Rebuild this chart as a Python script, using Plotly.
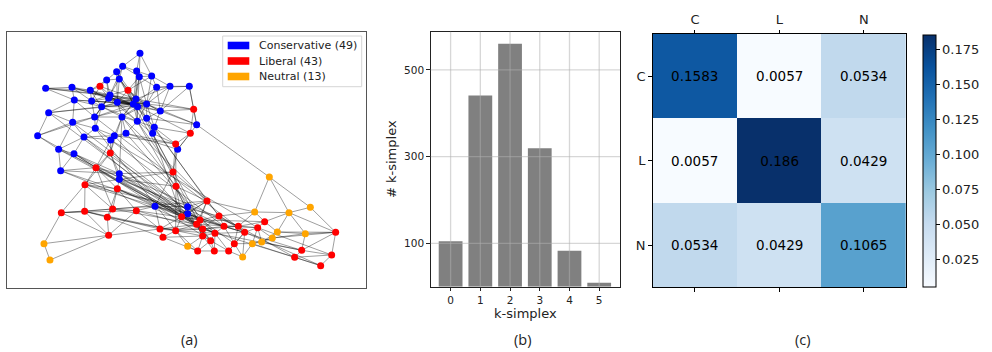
import plotly.graph_objects as go

W, H = 992, 352
FONT = 'DejaVu Sans'

# ---------------- (a) network: node layout positions (drawing units) ----------------
node_x = [
    # conservative
    420, 368, 350, 410, 418, 455, 320, 358, 137, 216, 271, 470, 510, 568, 223, 275, 330,
    326, 352, 408, 400, 413, 440, 305, 481, 146, 284, 366, 412, 440, 218, 286, 463, 458,
    113, 252, 343, 378, 332, 590, 176, 222, 533, 182, 358, 358, 465, 563, 563,
    # liberal
    300, 384, 581, 571, 527, 331, 288, 519, 528, 255, 352, 184, 254, 338, 322, 409, 326,
    621, 545, 657, 480, 489, 527, 600, 590, 608, 608, 672, 715, 645, 632, 734, 703, 773,
    794, 593, 643, 686, 1007, 905, 884, 995, 962,
    # neutral
    132, 150, 563, 728, 757, 785, 817, 832, 764, 867, 931, 916, 808,
]
node_y = [
    85, 124, 140, 138, 155, 153, 165, 162, 190, 187, 196, 187, 184, 184, 225, 228, 210,
    220, 232, 222, 237, 245, 237, 245, 258, 263, 276, 276, 289, 280, 292, 310, 307, 325,
    332, 336, 332, 325, 345, 299, 373, 386, 373, 437, 446, 463, 544, 545, 566,
    184, 196, 253, 325, 357, 384, 428, 441, 484, 479, 491, 563, 559, 552, 577, 557, 631,
    528, 575, 573, 612, 637, 617, 585, 598, 612, 633, 604, 604, 625, 647, 622, 656, 608,
    590, 678, 678, 678, 622, 676, 697, 690, 722,
    656, 705, 664, 696, 656, 651, 639, 621, 561, 563, 547, 626, 456,
]
node_group = ['C'] * 49 + ['L'] * 43 + ['N'] * 13

edges = [
    (0, 1), (0, 3), (0, 4), (0, 5), (1, 2), (1, 3), (1, 7), (1, 16), (1, 4),
    (2, 6), (2, 7), (2, 18), (2, 20), (2, 19), (3, 4), (3, 5), (3, 19), (3, 20),
    (4, 5), (4, 19), (4, 20), (4, 21), (4, 11), (4, 22), (5, 11), (5, 12), (5, 22),
    (6, 7), (6, 10), (6, 16), (6, 17), (6, 49), (7, 16), (7, 18), (7, 19), (7, 50), (7, 20),
    (8, 9), (8, 14), (8, 16), (8, 10), (8, 19), (9, 10), (9, 14), (9, 15), (9, 17), (9, 20),
    (10, 15), (10, 16), (10, 17), (10, 49), (10, 23), (10, 18), (10, 21),
    (11, 12), (11, 22), (11, 24), (11, 13), (11, 20), (12, 13), (12, 24), (12, 22), (12, 19),
    (13, 51), (13, 39), (13, 24), (14, 15), (14, 25), (14, 26), (14, 23), (14, 30), (14, 20),
    (15, 16), (15, 23), (15, 26), (15, 17), (15, 20), (15, 22),
    (16, 17), (16, 18), (16, 19), (16, 20), (16, 23), (16, 21), (16, 22), (16, 26),
    (17, 18), (17, 20), (17, 21), (17, 23), (17, 26), (17, 19), (17, 22), (17, 28),
    (18, 19), (18, 20), (18, 21), (18, 22), (18, 27), (18, 50), (18, 23), (18, 28),
    (19, 20), (19, 21), (19, 22), (19, 24), (19, 28), (19, 23), (19, 29), (19, 27),
    (20, 21), (20, 22), (20, 27), (20, 28), (20, 29), (20, 23), (20, 24), (20, 26),
    (21, 22), (21, 28), (21, 29), (21, 24), (21, 27), (21, 23),
    (22, 24), (22, 29), (22, 32), (22, 51), (22, 27), (22, 28),
    (23, 26), (23, 27), (23, 31), (23, 25), (23, 28), (24, 51), (24, 29), (24, 32), (24, 39),
    (25, 30), (25, 34), (25, 20), (26, 30), (26, 31), (26, 27), (26, 34), (26, 22),
    (27, 28), (27, 36), (27, 37), (27, 44), (28, 29), (28, 32), (28, 33), (28, 37),
    (29, 32), (29, 33), (29, 39), (30, 34), (30, 35), (30, 40), (30, 31),
    (31, 35), (31, 36), (31, 38), (32, 33), (32, 53), (32, 52), (33, 53), (33, 56),
    (34, 40), (35, 36), (35, 40), (35, 41), (35, 38), (36, 37), (36, 38), (36, 54),
    (37, 38), (37, 42), (37, 53), (38, 54), (38, 55), (40, 41), (40, 43), (41, 43), (41, 55),
    (42, 53), (42, 56), (42, 52), (43, 44), (44, 45), (44, 54), (44, 55),
    (45, 57), (45, 58), (45, 59), (49, 16), (49, 17), (49, 15), (49, 19),
    (50, 19), (50, 20), (50, 21), (50, 22), (50, 5), (50, 4), (50, 16),
    # long conservative -> liberal cluster links
    (40, 73), (41, 72), (43, 76), (44, 74), (45, 77), (27, 66), (28, 75), (37, 78),
    (36, 79), (26, 80), (35, 67), (31, 71), (38, 82), (30, 72), (34, 74), (25, 73),
    (41, 77), (43, 78), (40, 76), (29, 68), (32, 66), (33, 67), (21, 72), (20, 74),
    (19, 51), (20, 52), (22, 39), (36, 53), (41, 79), (35, 81), (38, 76), (44, 72),
    (45, 73), (27, 57), (28, 56),
    # left liberal group
    (54, 55), (54, 58), (55, 58), (55, 59), (55, 62), (58, 59), (58, 60), (58, 61), (58, 62),
    (59, 62), (59, 63), (59, 64), (60, 61), (60, 92), (60, 65), (60, 62), (60, 64),
    (61, 62), (61, 63), (61, 65), (62, 63), (62, 64), (63, 65), (64, 65),
    (92, 93), (92, 65), (93, 65), (65, 69), (54, 45), (55, 43), (54, 27),
    (58, 72), (59, 76), (62, 73), (64, 74), (61, 69), (64, 69), (63, 70), (62, 66),
    (59, 67), (55, 74), (55, 78), (54, 73), (64, 46), (59, 46), (62, 46), (61, 71),
    (58, 68), (64, 72), (63, 71),
    # middle
    (51, 52), (51, 39), (52, 39), (52, 53), (52, 42), (53, 56), (53, 42), (56, 57),
    (56, 66), (56, 46), (57, 66), (57, 47), (57, 48), (57, 67), (57, 71), (45, 56),
    (44, 56), (53, 57), (39, 104),
    # lower right cluster
    (66, 67), (66, 72), (66, 73), (66, 68), (66, 100), (66, 48),
    (67, 72), (67, 73), (67, 69), (67, 71), (67, 48), (67, 47),
    (68, 72), (68, 76), (68, 77), (68, 100), (68, 74), (69, 70), (69, 71), (69, 73),
    (70, 71), (70, 84), (71, 73), (71, 74), (71, 84), (71, 75),
    (72, 73), (72, 74), (72, 76), (72, 78), (73, 74), (73, 75), (73, 79),
    (74, 75), (74, 78), (74, 79), (74, 76), (75, 79), (75, 84), (75, 85),
    (76, 77), (76, 78), (76, 80), (76, 81), (77, 80), (77, 82), (77, 83), (77, 81),
    (78, 79), (78, 80), (78, 85), (78, 86), (79, 85), (79, 84),
    (80, 81), (80, 82), (80, 86), (80, 95), (81, 86), (81, 95), (81, 96),
    (82, 83), (82, 96), (82, 97), (82, 98), (83, 99), (83, 100), (83, 101),
    (84, 85), (84, 94), (85, 86), (86, 95), (94, 71), (94, 75), (95, 96),
    (96, 97), (96, 98), (96, 91), (97, 98), (97, 99), (97, 88),
    (98, 99), (98, 103), (98, 87), (99, 101), (99, 103), (99, 87),
    (100, 101), (100, 104), (100, 77), (101, 102), (101, 103), (101, 104), (101, 87),
    (102, 104), (102, 87), (103, 87), (103, 88), (87, 90), (87, 88),
    (88, 89), (88, 90), (89, 91), (89, 90), (90, 91),
    (46, 47), (46, 48), (46, 67), (46, 69), (47, 48), (47, 66), (47, 67), (47, 72),
    (48, 72), (48, 73), (76, 88), (77, 89), (80, 91), (82, 90), (74, 89), (78, 88),
    (72, 80), (73, 78), (74, 77), (75, 78), (79, 86), (73, 82), (72, 83), (71, 78),
    (69, 74), (70, 75), (68, 80),
]

group_names = {'C': 'Conservative', 'L': 'Liberal', 'N': 'Neutral'}
group_colors = {'C': '#0000ff', 'L': '#ff0000', 'N': '#ffa500'}

# ---------------- (b) simplex counts ----------------
simplex_k = [0, 1, 2, 3, 4, 5]
simplex_count = [105, 441, 560, 319, 83, 9]
count_ticks = [100, 300, 500]

# ---------------- (c) group mixing matrix ----------------
groups = ['C', 'L', 'N']
mixing = [
    [0.1583, 0.0057, 0.0534],
    [0.0057, 0.186, 0.0429],
    [0.0534, 0.0429, 0.1065],
]
cbar_ticks = [0.025, 0.05, 0.075, 0.1, 0.125, 0.15, 0.175]

BLUES = [
    [0.0, '#f7fbff'], [0.125, '#deebf7'], [0.25, '#c6dbef'], [0.375, '#9ecae1'],
    [0.5, '#6baed6'], [0.625, '#4292c6'], [0.75, '#2171b5'], [0.875, '#08519c'],
    [1.0, '#08306b'],
]


def px(x0, x1):
    return [x0 / W, x1 / W]


def py(top, bottom):
    return [1 - bottom / H, 1 - top / H]


fig = go.Figure()

# edges
ex, ey = [], []
for a, b in edges:
    ex += [node_x[a], node_x[b], None]
    ey += [node_y[a], node_y[b], None]
fig.add_trace(go.Scatter(
    x=ex, y=ey, mode='lines', xaxis='x', yaxis='y',
    line=dict(color='rgba(0,0,0,0.55)', width=0.7),
    hoverinfo='skip', showlegend=False,
))

for g in ['C', 'L', 'N']:
    idx = [i for i, gg in enumerate(node_group) if gg == g]
    fig.add_trace(go.Scatter(
        x=[node_x[i] for i in idx], y=[node_y[i] for i in idx],
        mode='markers', xaxis='x', yaxis='y',
        marker=dict(color=group_colors[g], size=7, line=dict(width=0)),
        name=group_names[g], showlegend=False,
    ))

# bars
fig.add_trace(go.Bar(
    x=simplex_k, y=simplex_count, xaxis='x2', yaxis='y2', width=0.8,
    marker=dict(color='#808080', line=dict(width=0)),
    showlegend=False,
))

# heatmap
fig.add_trace(go.Heatmap(
    z=mixing, x=groups, y=groups, xaxis='x3', yaxis='y3',
    colorscale=BLUES,
    text=[[str(v) for v in row] for row in mixing],
    texttemplate='%{text}',
    textfont=dict(family=FONT, size=13.5, color='black'),
    colorbar=dict(
        x=922.7 / W, xanchor='left', y=1 - 160.5 / H, yanchor='middle',
        len=252.4 / H, lenmode='fraction', thickness=13.3, thicknessmode='pixels',
        outlinewidth=1, outlinecolor='black', xpad=0, ypad=0,
        tickvals=cbar_ticks, tickformat='.3f', ticks='outside', ticklen=3.5,
        tickcolor='black', tickfont=dict(family=FONT, size=13, color='#222'),
    ),
))

shapes = []
# grid of bar chart drawn over the bars (matplotlib style)
for k in simplex_k:
    shapes.append(dict(type='line', xref='x2', yref='y2 domain', x0=k, x1=k, y0=0, y1=1,
                       line=dict(color='rgba(176,176,176,0.5)', width=1.3), layer='above'))
for v in count_ticks:
    shapes.append(dict(type='line', xref='x2 domain', yref='y2', x0=0, x1=1, y0=v, y1=v,
                       line=dict(color='rgba(176,176,176,0.5)', width=1.3), layer='above'))

# network legend (patch style)
shapes.append(dict(type='rect', xref='paper', yref='paper',
                   x0=222.7 / W, x1=361.7 / W, y0=1 - 86.7 / H, y1=1 - 36 / H,
                   line=dict(color='#d6d6d6', width=1), fillcolor='rgba(255,255,255,0.9)',
                   layer='above'))
annotations = []
for i, g in enumerate(['C', 'L', 'N']):
    yc = 45.5 + i * 15.5
    shapes.append(dict(type='rect', xref='paper', yref='paper',
                       x0=227.7 / W, x1=249.3 / W, y0=1 - (yc + 3.8) / H, y1=1 - (yc - 3.8) / H,
                       line=dict(width=0), fillcolor=group_colors[g], layer='above'))
    n = node_group.count(g)
    annotations.append(dict(text=f'{group_names[g]} ({n})', xref='paper', yref='paper',
                            x=257 / W, y=1 - yc / H, xanchor='left', yanchor='middle',
                            showarrow=False, font=dict(family=FONT, size=11, color='#222')))

for lab, xc in [('(a)', 189.5), ('(b)', 522), ('(c)', 803)]:
    annotations.append(dict(text=lab, xref='paper', yref='paper', x=xc / W, y=1 - 339 / H,
                            xanchor='center', yanchor='middle', showarrow=False,
                            font=dict(family='Open Sans', size=14.5, color='#222')))

axis_font = dict(family=FONT, size=10.5, color='#222')

fig.update_layout(
    width=W, height=H, margin=dict(l=0, r=0, t=0, b=0),
    paper_bgcolor='white', plot_bgcolor='white',
    font=dict(family=FONT, color='#222'),
    showlegend=False,
    xaxis=dict(domain=px(7.3, 366), range=[22, 1098], showgrid=False, zeroline=False,
               showticklabels=False, ticks='', showline=True, mirror=True,
               linecolor='#555', linewidth=1),
    yaxis=dict(domain=py(31.7, 288.3), range=[790, 20], showgrid=False, zeroline=False,
               showticklabels=False, ticks='', showline=True, mirror=True,
               linecolor='#555', linewidth=1),
    xaxis2=dict(domain=px(430.7, 620), range=[-0.67, 5.70], tickvals=simplex_k,
                showgrid=False, zeroline=False, ticks='outside', ticklen=3.5, tickcolor='#222',
                showline=True, mirror=True, linecolor='#222', linewidth=1,
                tickfont=axis_font, anchor='y2',
                title=dict(text='k-simplex', font=dict(family=FONT, size=13, color='#222'),
                           standoff=4)),
    yaxis2=dict(domain=py(31.7, 286.7), range=[0, 588], tickvals=count_ticks,
                showgrid=False, zeroline=False, ticks='outside', ticklen=3.5, tickcolor='#222',
                showline=True, mirror=True, linecolor='#222', linewidth=1,
                tickfont=axis_font, anchor='x2',
                title=dict(text='# k-simplex', font=dict(family=FONT, size=13, color='#222'),
                           standoff=4)),
    xaxis3=dict(domain=px(652.7, 906), side='top', anchor='y3', ticks='outside', ticklen=3.5,
                tickcolor='black', showline=True, mirror='ticks', linecolor='black',
                linewidth=1, showgrid=False, zeroline=False,
                tickfont=dict(family=FONT, size=13, color='#222')),
    yaxis3=dict(domain=py(34, 287.3), anchor='x3', autorange='reversed', ticks='outside',
                ticklen=3.5, tickcolor='black', showline=True, mirror=True, linecolor='black',
                linewidth=1, showgrid=False, zeroline=False,
                tickfont=dict(family=FONT, size=13, color='#222')),
    shapes=shapes,
    annotations=annotations,
)

# the page body has a default 8px margin; remove it so the figure sits at the origin
fig.write_html('out.html', config={'displayModeBar': False},
               post_script="document.body.style.margin='0';")
